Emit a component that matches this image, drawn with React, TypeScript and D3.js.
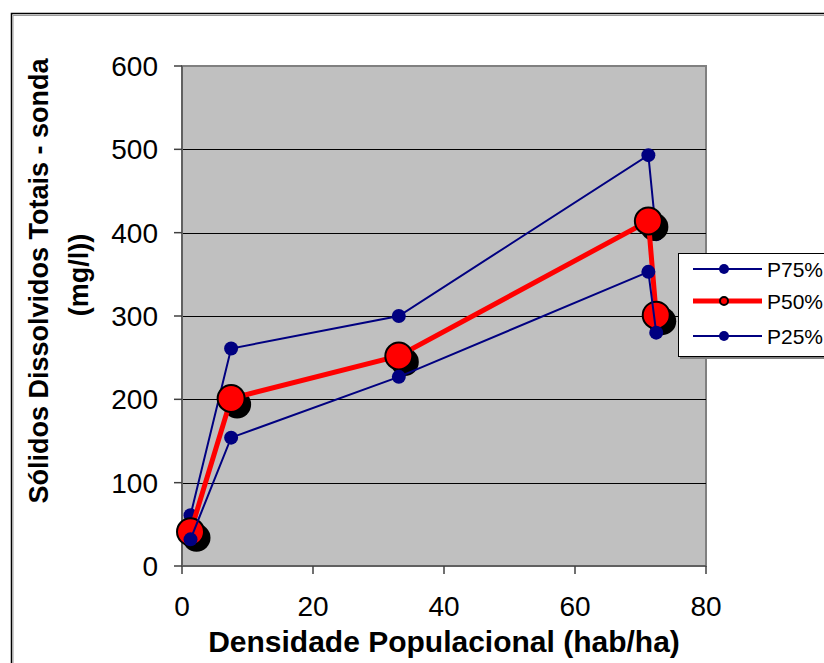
import React from "react";
import * as d3 from "d3";

const densidade = [1.3, 7.5, 33.1, 71.2, 72.4];
const p75 = [61, 261, 300, 493, 398];
const p50 = [41, 201, 252, 414, 301];
const p25 = [32, 154, 227, 353, 280];
const xTicks = [0, 20, 40, 60, 80];
const yTicks = [0, 100, 200, 300, 400, 500, 600];
const legendLabels = ["P75%", "P50%", "P25%"];

const W = 824, H = 663;
const L = 182, R = 706, T = 66, B = 566;
const NAVY = "#000080";
const RED = "#ff0000";

export default function App() {
  const x = d3.scaleLinear().domain([0, 80]).range([L, R]);
  const y = d3.scaleLinear().domain([0, 600]).range([B, T]);
  const line = d3.line<[number, number]>().x(d => x(d[0])).y(d => y(d[1]));
  const pts = (vals: number[]) => densidade.map((d, i) => [d, vals[i]] as [number, number]);
  const font = "'Liberation Sans', Arial, sans-serif";
  const legendY = [269, 301, 336];

  return (
    <svg width={W} height={H} style={{ position: "absolute", left: 0, top: 0, background: "#fff" }}>
      {/* outer border */}
      <path d={`M11.5,${H} V13.5 H${W}`} fill="none" stroke="#000" strokeWidth={1.5} />
      <path d={`M13,${H} V15.5 H${W}`} fill="none" stroke="#9a9a9a" strokeWidth={1} />
      {/* plot area */}
      <rect x={L} y={T} width={R - L} height={B - T} fill="#c0c0c0" stroke="#808080" strokeWidth={2} />
      {yTicks.filter(t => t > 0 && t < 600).map(t => (
        <line key={t} x1={L} x2={R} y1={Math.round(y(t)) + 0.5} y2={Math.round(y(t)) + 0.5} stroke="#000" strokeWidth={1} />
      ))}
      {/* axes */}
      <line x1={L} x2={L} y1={T} y2={B} stroke="#606060" strokeWidth={2} />
      <line x1={L} x2={R} y1={B} y2={B} stroke="#606060" strokeWidth={2} />
      {yTicks.map(t => (
        <g key={t}>
          <line x1={L - 8} x2={L} y1={y(t)} y2={y(t)} stroke="#404040" strokeWidth={1.5} />
          <text x={158} y={y(t)} dy="0.36em" textAnchor="end" fontFamily={font} fontSize={28} fill="#000">{t}</text>
        </g>
      ))}
      {xTicks.map(t => (
        <g key={t}>
          <line x1={x(t)} x2={x(t)} y1={B} y2={B + 8} stroke="#404040" strokeWidth={1.5} />
          <text x={x(t)} y={616} textAnchor="middle" fontFamily={font} fontSize={28} fill="#000">{t}</text>
        </g>
      ))}
      {/* P75 */}
      <path d={line(pts(p75)) || ""} fill="none" stroke={NAVY} strokeWidth={2} />
      {pts(p75).map((p, i) => <circle key={i} cx={x(p[0])} cy={y(p[1])} r={7} fill={NAVY} />)}
      {/* P50 */}
      {pts(p50).map((p, i) => <circle key={"s" + i} cx={x(p[0]) + 6} cy={y(p[1]) + 6} r={14} fill="#000" />)}
      <path d={line(pts(p50)) || ""} fill="none" stroke={RED} strokeWidth={5} />
      {pts(p50).map((p, i) => <circle key={i} cx={x(p[0])} cy={y(p[1])} r={13.5} fill={RED} stroke="#000" strokeWidth={2} />)}
      {/* P25 */}
      <path d={line(pts(p25)) || ""} fill="none" stroke={NAVY} strokeWidth={2} />
      {pts(p25).map((p, i) => <circle key={i} cx={x(p[0])} cy={y(p[1])} r={7} fill={NAVY} />)}
      {/* legend */}
      <rect x={680} y={255} width={160} height={104} fill="#808080" />
      <rect x={678.5} y={253.5} width={160} height={103} fill="#fff" stroke="#000" strokeWidth={1} />
      {legendLabels.map((lab, i) => (
        <g key={lab}>
          <line x1={693} x2={762} y1={legendY[i]} y2={legendY[i]} stroke={i === 1 ? RED : NAVY} strokeWidth={i === 1 ? 5 : 2} />
          {i === 1
            ? <circle cx={724} cy={legendY[i]} r={4} fill={RED} stroke="#000" strokeWidth={2} />
            : <circle cx={724} cy={legendY[i]} r={5} fill={NAVY} />}
          <text x={767} y={legendY[i]} dy="0.36em" fontFamily={font} fontSize={21} fill="#000">{lab}</text>
        </g>
      ))}
      {/* titles */}
      <text x={444} y={652} textAnchor="middle" fontFamily={font} fontSize={30} fontWeight="bold" fill="#000">Densidade Populacional (hab/ha)</text>
      <g transform="translate(38,281) rotate(-90)">
        <text x={0} y={0} dy="0.36em" textAnchor="middle" fontFamily={font} fontSize={27} fontWeight="bold" fill="#000">Sólidos Dissolvidos Totais - sonda</text>
      </g>
      <g transform="translate(78,275) rotate(-90)">
        <text x={0} y={0} dy="0.36em" textAnchor="middle" fontFamily={font} fontSize={27} fontWeight="bold" fill="#000">(mg/l))</text>
      </g>
    </svg>
  );
}
